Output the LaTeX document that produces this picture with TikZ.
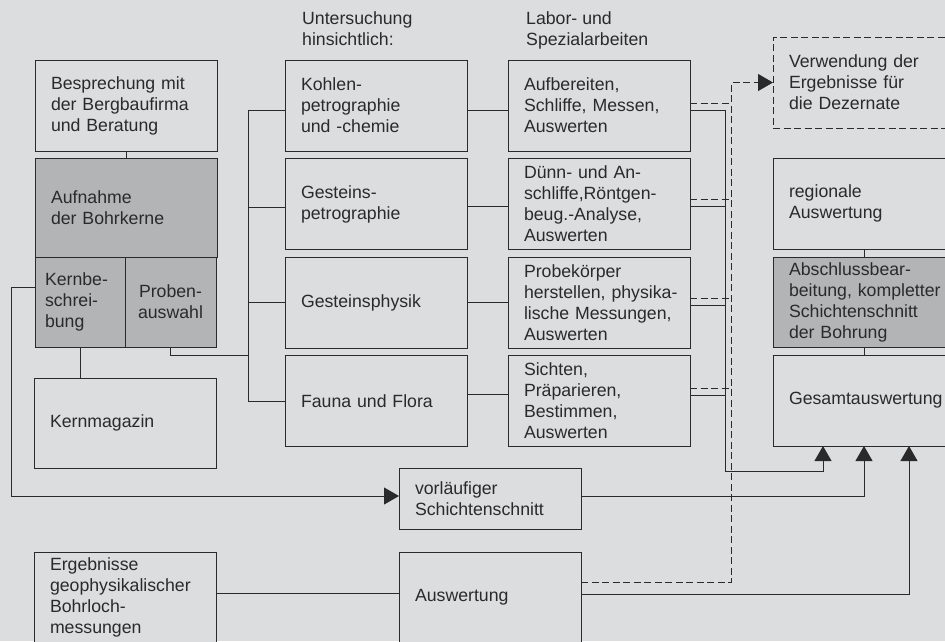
\documentclass[tikz,border=0pt]{standalone}
\usepackage{fontspec}
\setmainfont{Liberation Sans}
\usepackage{xcolor}
\usetikzlibrary{positioning,arrows.meta}
\definecolor{paper}{HTML}{DCDDDF}
\definecolor{shade}{HTML}{B3B4B6}
\definecolor{ink}{HTML}{2A2A2A}

\begin{document}
\begin{tikzpicture}[x=1pt,y=1pt,node distance=7.5pt,color=ink,
                    font=\fontsize{17.7}{21}\selectfont,
    main box/.style={draw,fill=paper,line width=0.9pt,outer sep=0pt,
                     minimum width=182pt,minimum height=91pt,
                     inner xsep=16pt,inner ysep=2pt,text width=150pt,align=left},
    core box/.style={draw,fill=shade,line width=0.9pt,outer sep=0pt,
                     minimum width=90pt,minimum height=90pt,
                     inner xsep=10pt,inner ysep=2pt,text width=70pt,align=left},
    head/.style={inner sep=0pt,align=left,anchor=north west},
    link/.style={line width=0.9pt},
    dash link/.style={link,line width=1pt,dash pattern=on 7pt off 3.5pt},
    arrow link/.style={link,-{Triangle[length=15pt,width=17pt]}}]

 \fill[paper] (0,0) rectangle (945,-641);
 \clip (0,0) rectangle (945,-641);

 % left column
 \node[main box,anchor=north west] (bespr) at (35,-60) {Besprechung mit\\der Bergbaufirma\\und Beratung};
 \node[main box,fill=shade,minimum height=99pt,below=7pt of bespr] (aufn) {Aufnahme\\der Bohrkerne};
 \node[core box,anchor=north west] (kernbe) at (aufn.south west) {Kernbe-\\schrei-\\bung};
 \node[core box,align=center,minimum width=91pt,text width=71pt,right=0pt of kernbe] (proben) {Proben-\\auswahl};
 \node[main box,minimum height=90pt,below=31pt of proben.south west] (kernmag) {Kernmagazin};

 % Untersuchung
 \node[head] (unters) at (302,-11.5) {Untersuchung\\hinsichtlich:};
 \node[main box,anchor=north west] (kohlen) at (285,-60) {Kohlen-\\petrographie\\und -chemie};
 \node[main box,below=of kohlen] (gpetro) {Gesteins-\\petrographie};
 \node[main box,below=of gpetro] (gphys) {Gesteinsphysik};
 \node[main box,below=of gphys] (fauna) {Fauna und Flora};

 % Labor
 \node[head] (labor) at (526,-11.5) {Labor- und\\Spezialarbeiten};
 \node[main box,right=41pt of kohlen] (aufber) {Aufbereiten,\\Schliffe, Messen,\\Auswerten};
 \node[main box,right=41pt of gpetro] (duenn) {Dünn- und An-\\schliffe,Röntgen-\\beug.-Analyse,\\Auswerten};
 \node[main box,right=41pt of gphys] (probek) {Probekörper\\\mbox{herstellen, physika-}\\\mbox{lische Messungen,}\\Auswerten};
 \node[main box,right=41pt of fauna] (sichten) {Sichten,\\Präparieren,\\Bestimmen,\\Auswerten};

 % right column
 \node[main box,line width=1pt,dash pattern=on 7pt off 3.5pt,anchor=north west] (verw) at (773,-37) {Verwendung der\\Ergebnisse für\\die Dezernate};
 \node[main box,below=30pt of verw] (regio) {regionale\\Auswertung};
 \node[main box,fill=shade,minimum height=90pt,below=8pt of regio] (absch) {Abschlussbear-\\\mbox{beitung, kompletter}\\Schichtenschnitt\\der Bohrung};
 \node[main box,below=8pt of absch] (gesamt) {Gesamtauswertung};

 % bottom
 \node[main box,minimum height=61pt,anchor=north west] (vorl) at (399,-468) {vorläufiger\\Schichtenschnitt};
 \node[main box,below=23pt of vorl] (ausw) {Auswertung};
 \node[main box,left=183pt of ausw] (ergeb) {Ergebnisse\\geophysikalischer\\Bohrloch-\\messungen};

 \coordinate (trunk) at (248,0);
 \coordinate (pjoin) at (248,-355);
 \coordinate (kbend) at (11,0);
 \coordinate (sbus) at (725,-471);
 \coordinate (dbus) at (731,0);

 \draw[link] (bespr.south) -- (aufn.north);
 \draw[link] (kernbe.south) -- (kernbe.south |- kernmag.north);
 \draw[link] (proben.south) |- (pjoin);
 \draw[link] ([yshift=-4.5pt]kohlen.west) -| (trunk |- fauna.west) -- (fauna.west);
 \draw[link] ([yshift=-3pt]gpetro.west) -- ([yshift=-3pt]gpetro.west -| trunk);
 \draw[link] (gphys.west) -- (gphys.west -| trunk);

 \draw[link] ([yshift=-4.5pt]kohlen.east) -- ([yshift=-4.5pt]aufber.west);
 \draw[link] ([yshift=-2pt]gpetro.east) -- ([yshift=-2pt]duenn.west);
 \draw[link] (gphys.east) -- (probek.west);
 \draw[link] ([yshift=7pt]fauna.east) -- ([yshift=7pt]sichten.west);

 % to Gesamtauswertung
 \draw[arrow link] ([yshift=-4.5pt]aufber.east) -| (sbus) -| ([xshift=-41pt]gesamt.south);
 \foreach \lab/\dy in {duenn/-2.5,probek/-2.5,sichten/6}
   \draw[link] ([yshift=\dy pt]\lab.east) coordinate (s) -- (s -| sbus);
 \draw[arrow link] ([yshift=2.5pt]vorl.east) -| (gesamt.south);
 \draw[arrow link] ([yshift=3.5pt]ausw.east) -| ([xshift=45pt]gesamt.south);

 % to Verwendung
 \draw[arrow link,dash link] ([yshift=15.5pt]ausw.east) -| (dbus |- verw.west) -- (verw.west);
 \foreach \lab/\dy in {aufber/2.5,duenn/4.5,probek/4,sichten/13}
   \draw[dash link] ([yshift=\dy pt]\lab.east) coordinate (d) -- (d -| dbus);

 \draw[arrow link] ([yshift=15pt]kernbe.west) -| ([yshift=2.5pt]kbend |- vorl.west) -- ([yshift=2.5pt]vorl.west);
 \draw[link] ([yshift=4pt]ergeb.east) -- ([yshift=4pt]ausw.west);
 \draw[link] (regio.south) -- (absch.north);
 \draw[link] (absch.south) -- (gesamt.north);

\end{tikzpicture}
\end{document}
